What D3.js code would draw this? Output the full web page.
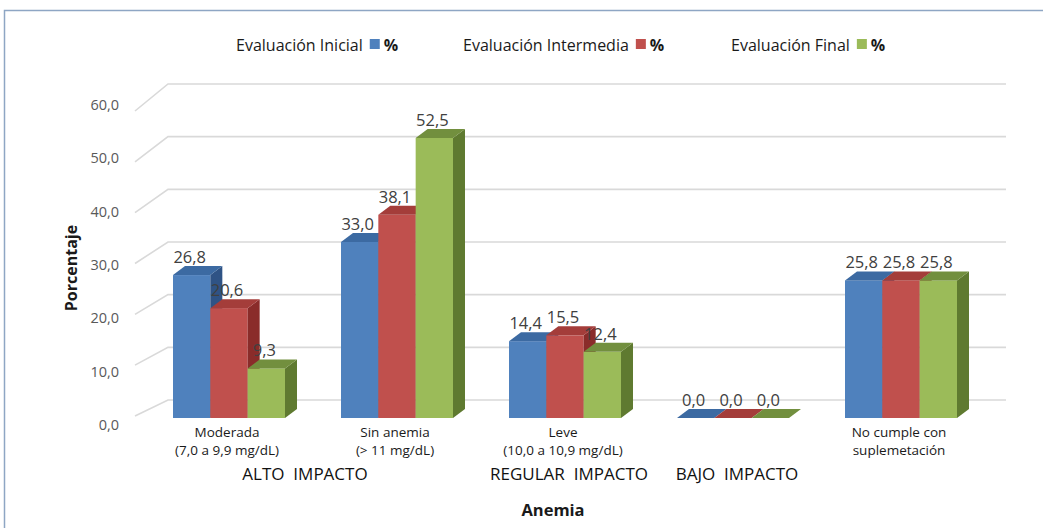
<!DOCTYPE html>
<html>
<head>
<meta charset="utf-8">
<script src="https://cdn.jsdelivr.net/npm/d3@7"></script>
<style>
  html, body { margin: 0; padding: 0; background: #ffffff; }
  svg { display: block; font-family: "Open Sans", "Noto Sans", sans-serif; }
</style>
</head>
<body>
<svg id="chart" width="1043" height="528"></svg>
<script>
// Categorías (eje X) y grupos de impacto
const categories = [
  ["Moderada", "(7,0 a 9,9 mg/dL)"],
  ["Sin anemia", "(> 11 mg/dL)"],
  ["Leve", "(10,0 a 10,9 mg/dL)"],
  ["", ""],
  ["No cumple con", "suplemetación"]
];
const impactGroups = [
  { label: "ALTO  IMPACTO", from: 0, to: 1 },
  { label: "REGULAR  IMPACTO", from: 2, to: 2 },
  { label: "BAJO  IMPACTO", from: 3, to: 3 }
];
// Series (porcentaje)
const seriesNames = ["Evaluación Inicial", "Evaluación Intermedia", "Evaluación Final"];
const inicial = [26.8, 33.0, 14.4, 0.0, 25.8];
const intermedia = [20.6, 38.1, 15.5, 0.0, 25.8];
const final = [9.3, 52.5, 12.4, 0.0, 25.8];
const yTicks = [0, 10, 20, 30, 40, 50, 60];

const series = [inicial, intermedia, final];
const palette = [
  { front: "#4f81bd", top: "#3c6aa2", side: "#2f5385" },
  { front: "#c0504d", top: "#a43d3a", side: "#8a2c2a" },
  { front: "#9bbb59", top: "#728f3e", side: "#5f7a30" }
];

const svg = d3.select("#chart");
const fmt = v => v.toFixed(1).replace(".", ",");

// Escalas
const x = d3.scaleBand().domain(d3.range(categories.length))
  .range([145, 985]).paddingInner(1 / 3).paddingOuter(1 / 6);
const xs = d3.scaleBand().domain(d3.range(series.length)).range([0, x.bandwidth()]);
const yBar = d3.scaleLinear().domain([0, 60]).range([418, 98]);     // cara frontal
const yBack = d3.scaleLinear().domain([0, 60]).range([400, 84]);    // pared del fondo
const ySide = d3.scaleLinear().domain([0, 60]).range([416, 111]);   // borde lateral
const yLabel = d3.scaleLinear().domain([0, 60]).range([425, 105]);  // etiquetas del eje
const depth = { dx: 12, dy: -9 };

// Marco
svg.append("path")
  .attr("d", "M4.5,528 V10.5 H1043")
  .attr("fill", "none").attr("stroke", "#8ea6c4").attr("stroke-width", 1.5);

// Líneas de división (pared lateral y fondo)
const grid = svg.append("g").attr("stroke", "#d9d9d9").attr("stroke-width", 1.6).attr("fill", "none");
yTicks.forEach(t => {
  grid.append("path")
    .attr("d", `M135,${ySide(t)} L168,${yBack(t)} H1006`);
});

// Etiquetas del eje Y
svg.append("g").selectAll("text").data(yTicks).join("text")
  .attr("x", 119).attr("y", d => yLabel(d))
  .attr("dy", "0.35em").attr("text-anchor", "end")
  .attr("font-size", 14.5).attr("fill", "#595959")
  .text(fmt);

// Título del eje Y
svg.append("text")
  .attr("transform", "translate(77,268) rotate(-90)")
  .attr("text-anchor", "middle").attr("font-size", 16).attr("font-weight", "bold")
  .attr("fill", "#1a1a1a").text("Porcentaje");

// Barras 3D
const bars = svg.append("g");
categories.forEach((c, i) => {
  series.forEach((vals, s) => {
    const v = vals[i];
    const x0 = x(i) + xs(s), x1 = x0 + xs.bandwidth();
    const y0 = yBar(0), y1 = yBar(v);
    const p = palette[s];
    const g = bars.append("g");
    if (v > 0) {
      g.append("rect").attr("x", x0).attr("y", y1)
        .attr("width", x1 - x0).attr("height", y0 - y1).attr("fill", p.front);
      g.append("path")
        .attr("d", `M${x1},${y1} L${x1 + depth.dx},${y1 + depth.dy} L${x1 + depth.dx},${y0 + depth.dy} L${x1},${y0} Z`)
        .attr("fill", p.side);
    }
    g.append("path")
      .attr("d", `M${x0},${y1} L${x0 + depth.dx},${y1 + depth.dy} L${x1 + depth.dx},${y1 + depth.dy} L${x1},${y1} Z`)
      .attr("fill", p.top);
  });
});

// Etiquetas de datos
const labels = svg.append("g");
series.forEach((vals, s) => {
  labels.selectAll(null).data(vals).join("text")
    .attr("x", (d, i) => x(i) + xs(s) + xs.bandwidth() / 2 - 2)
    .attr("y", d => yBar(d) - 18)
    .attr("dy", "0.35em").attr("text-anchor", "middle")
    .attr("font-size", 16.5).attr("fill", "#404040")
    .text(fmt);
});

// Etiquetas de categoría
const cat = svg.append("g").attr("font-size", 13.5).attr("fill", "#1a1a1a").attr("text-anchor", "middle");
categories.forEach((c, i) => {
  const cx = x(i) + x.bandwidth() / 2 - 2;
  cat.append("text").attr("x", cx).attr("y", 437).text(c[0]);
  cat.append("text").attr("x", cx).attr("y", 455).text(c[1]);
});

// Grupos de impacto
svg.append("g").selectAll("text").data(impactGroups).join("text")
  .attr("x", d => (x(d.from) + x(d.to) + x.bandwidth()) / 2 + (d.from === d.to ? 4 : -8))
  .attr("y", 480).attr("text-anchor", "middle")
  .attr("font-size", 17).attr("font-weight", 500).attr("fill", "#111")
  .style("white-space", "pre")
  .text(d => d.label);

// Título del eje X
svg.append("text")
  .attr("x", 553).attr("y", 516).attr("text-anchor", "middle")
  .attr("font-size", 16.5).attr("font-weight", "bold").attr("fill", "#1a1a1a")
  .text("Anemia");

// Leyenda
const legendPos = [236, 463, 731];
const legend = svg.append("g");
seriesNames.forEach((name, s) => {
  const t = legend.append("text")
    .attr("x", legendPos[s]).attr("y", 51)
    .attr("font-size", 16).attr("fill", "#1a1a1a").text(name);
  const w = t.node().getComputedTextLength();
  legend.append("rect").attr("x", legendPos[s] + w + 7).attr("y", 39)
    .attr("width", 10).attr("height", 10).attr("fill", palette[s].front);
  legend.append("text").attr("x", legendPos[s] + w + 21).attr("y", 51)
    .attr("font-size", 16).attr("font-weight", "bold").attr("fill", "#1a1a1a").text("%");
});
</script>
</body>
</html>
